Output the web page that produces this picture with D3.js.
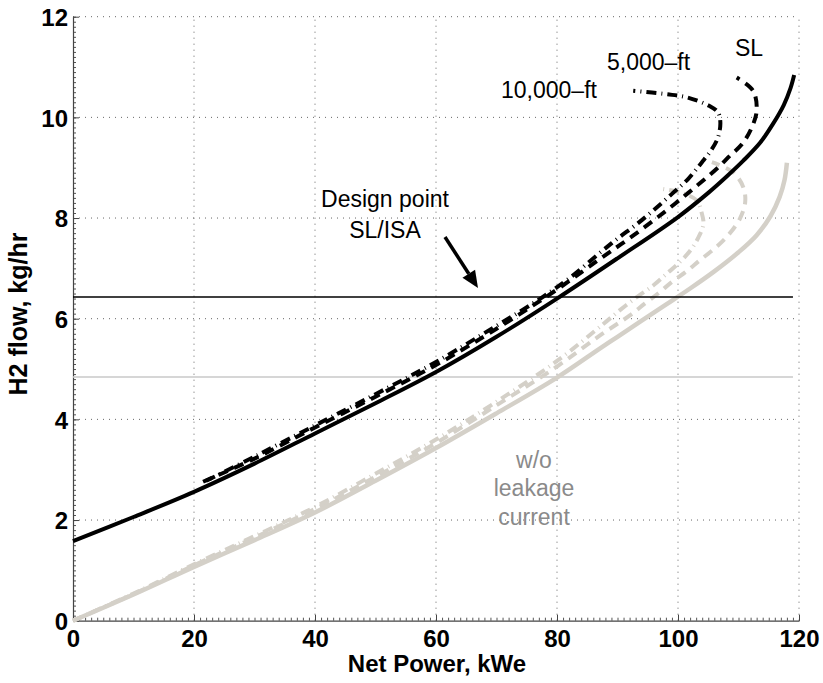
<!DOCTYPE html>
<html>
<head>
<meta charset="utf-8">
<script src="https://cdn.jsdelivr.net/npm/d3@7"></script>
<style>
  html, body { margin: 0; padding: 0; background: #fff; }
  svg { display: block; font-family: "Liberation Sans", Arial, Helvetica, sans-serif; }
</style>
</head>
<body>
<svg id="chart" width="823" height="683"></svg>
<script>
// ---------------- data ----------------
const xTickValues = [0, 20, 40, 60, 80, 100, 120];
const yTickValues = [0, 2, 4, 6, 8, 10, 12];
const xLabel = "Net Power, kWe";
const yLabel = "H2 flow, kg/hr";

// Sea level (with leakage current) - black solid
const slPower = [0, 10, 20, 30, 40, 50, 60, 70, 80, 90, 100, 105, 108, 110.8, 113.6, 115.7, 117.5, 118.6, 119.2];
const slFlow  = [1.58, 2.06, 2.56, 3.12, 3.72, 4.32, 4.94, 5.64, 6.40, 7.2, 8.02, 8.5, 8.82, 9.14, 9.5, 9.87, 10.25, 10.58, 10.84];

// 5,000 ft - black dashed
const ft5kPower = [21.5, 30, 40, 50, 60, 70, 80, 87, 92, 96.7, 101.7, 106.4, 108.6, 110.6, 112.2, 113.0, 112.4, 109.7];
const ft5kFlow  = [2.76, 3.22, 3.84, 4.45, 5.08, 5.80, 6.58, 7.18, 7.6, 8.02, 8.5, 8.98, 9.24, 9.47, 9.80, 10.13, 10.53, 10.79];

// 10,000 ft - black dash-dot
const ft10kPower = [22, 30, 40, 50, 60, 70, 77, 82, 87.4, 90.1, 93.2, 95.9, 99.0, 101.7, 103.9, 105.5, 106.6, 107.0, 106.6, 105.3, 101.4, 98.1, 92.6];
const ft10kFlow  = [2.78, 3.26, 3.88, 4.5, 5.14, 5.86, 6.38, 6.8, 7.34, 7.6, 7.88, 8.15, 8.48, 8.78, 9.1, 9.35, 9.6, 9.9, 10.1, 10.22, 10.40, 10.46, 10.53];

// without leakage current - grey
const slNoLeakPower = [0, 10, 20, 30, 40, 50, 60, 70, 80, 87, 90, 94, 98, 102, 106, 110, 113, 115.3, 116.8, 117.6, 118];
const slNoLeakFlow  = [0, 0.52, 1.07, 1.6, 2.15, 2.78, 3.43, 4.12, 4.83, 5.4, 5.64, 5.96, 6.28, 6.6, 6.94, 7.32, 7.66, 8.04, 8.42, 8.75, 9.1];

const ft5kNoLeakPower = [0, 10, 20, 30, 40, 50, 60, 70, 80, 87, 92.1, 94.5, 96.7, 99, 101.4, 103.6, 106.1, 108.3, 110.2, 111.1, 110.8, 109.1, 105.6];
const ft5kNoLeakFlow  = [0, 0.53, 1.1, 1.65, 2.22, 2.86, 3.53, 4.28, 5.05, 5.66, 6.07, 6.3, 6.5, 6.73, 6.94, 7.16, 7.4, 7.66, 7.98, 8.31, 8.61, 8.91, 9.11];

const ft10kNoLeakPower = [0, 10, 20, 30, 40, 50, 60, 70, 80, 87.7, 90.4, 93.2, 95.9, 98.1, 100, 102, 103.4, 104.2, 103.9, 103.1, 100.3, 97.3];
const ft10kNoLeakFlow  = [0, 0.54, 1.12, 1.68, 2.26, 2.92, 3.6, 4.35, 5.16, 5.9, 6.17, 6.43, 6.66, 6.89, 7.09, 7.35, 7.62, 7.88, 8.11, 8.35, 8.51, 8.58];

// design point horizontal references
const refPowerRange = [0, 119];
const designFlow = 6.43;
const noLeakDesignFlow = 4.84;

// ---------------- chart ----------------
const svg = d3.select("#chart");
const x = d3.scaleLinear().domain([0, 120]).range([73, 799]);
const y = d3.scaleLinear().domain([0, 12]).range([620.7, 16.7]);

const GREY = "rgb(212,208,200)";

// grid
const grid = svg.append("g");
grid.selectAll("line.vx").data(xTickValues.filter(d => d > 0)).join("line")
  .attr("x1", d => x(d)).attr("x2", d => x(d))
  .attr("y1", y(0)).attr("y2", y(12))
  .attr("stroke", "#666").attr("stroke-width", 1).attr("stroke-dasharray", "1,5");
grid.selectAll("line.hy").data(yTickValues.filter(d => d > 0)).join("line")
  .attr("x1", x(0)).attr("x2", x(120))
  .attr("y1", d => y(d)).attr("y2", d => y(d))
  .attr("stroke", "#666").attr("stroke-width", 1).attr("stroke-dasharray", "1,5");

// axes (minor ticks)
const xMinor = d3.range(0, 121, 1);
const yMinor = d3.range(0, 120.5, 1).map(d => d / 10);
svg.append("g").attr("transform", `translate(0,${y(0)})`)
  .call(d3.axisBottom(x).tickValues(xMinor).tickSize(-3).tickFormat(""))
  .call(g => g.select(".domain").remove())
  .selectAll("line").attr("stroke", "#555");
svg.append("g").attr("transform", `translate(${x(0)},0)`)
  .call(d3.axisLeft(y).tickValues(yMinor).tickSize(-3).tickFormat(""))
  .call(g => g.select(".domain").remove())
  .selectAll("line").attr("stroke", "#555");

// major axes
const xAxis = svg.append("g").attr("transform", `translate(0,${y(0)})`)
  .call(d3.axisBottom(x).tickValues(xTickValues).tickSize(-6).tickSizeOuter(0).tickPadding(9).tickFormat(d3.format("d")));
const yAxis = svg.append("g").attr("transform", `translate(${x(0)},0)`)
  .call(d3.axisLeft(y).tickValues(yTickValues).tickSize(-6).tickSizeOuter(0).tickPadding(5).tickFormat(d3.format("d")));
[xAxis, yAxis].forEach(a => {
  a.select(".domain").attr("stroke", "#444").attr("stroke-width", 1.2);
  a.selectAll(".tick line").attr("stroke", "#444");
  a.selectAll(".tick text").attr("fill", "#000").attr("font-size", 24).attr("font-weight", "bold")
    .attr("font-family", "'Liberation Sans', Arial, sans-serif");
});
yAxis.selectAll(".tick text").attr("dy", "0.36em");
xAxis.selectAll(".tick text").attr("dy", "0.72em");

// line generator
const line = d3.line().x(d => x(d[0])).y(d => y(d[1])).curve(d3.curveCatmullRom.alpha(0.5));
const zip = (a, b) => a.map((v, i) => [v, b[i]]);

const plot = svg.append("g");

// grey reference line
plot.append("line")
  .attr("x1", x(refPowerRange[0])).attr("x2", x(refPowerRange[1]))
  .attr("y1", y(noLeakDesignFlow)).attr("y2", y(noLeakDesignFlow))
  .attr("stroke", "#c8c8c8").attr("stroke-width", 1.5);

// grey curves
plot.append("path").attr("d", line(zip(ft10kNoLeakPower, ft10kNoLeakFlow)))
  .attr("fill", "none").attr("stroke", GREY).attr("stroke-width", 4).attr("stroke-dasharray", "10,5,1,5");
plot.append("path").attr("d", line(zip(ft5kNoLeakPower, ft5kNoLeakFlow)))
  .attr("fill", "none").attr("stroke", GREY).attr("stroke-width", 4).attr("stroke-dasharray", "10,7");
plot.append("path").attr("d", line(zip(slNoLeakPower, slNoLeakFlow)))
  .attr("fill", "none").attr("stroke", GREY).attr("stroke-width", 4.5);

// black reference line
plot.append("line")
  .attr("x1", x(refPowerRange[0])).attr("x2", x(refPowerRange[1]))
  .attr("y1", y(designFlow)).attr("y2", y(designFlow))
  .attr("stroke", "#000").attr("stroke-width", 1.5);

// black curves
plot.append("path").attr("d", line(zip(ft10kPower, ft10kFlow)))
  .attr("fill", "none").attr("stroke", "#000").attr("stroke-width", 4).attr("stroke-dasharray", "10,5,1,5");
plot.append("path").attr("d", line(zip(ft5kPower, ft5kFlow)))
  .attr("fill", "none").attr("stroke", "#000").attr("stroke-width", 4).attr("stroke-dasharray", "10,7");
plot.append("path").attr("d", line(zip(slPower, slFlow)))
  .attr("fill", "none").attr("stroke", "#000").attr("stroke-width", 4);

// annotations
const ann = svg.append("g").attr("font-family", "'Liberation Sans', Arial, sans-serif").attr("font-size", 23);
ann.append("text").attr("x", 735).attr("y", 56).text("SL");
ann.append("text").attr("x", 607).attr("y", 70).text("5,000\u2013ft");
ann.append("text").attr("x", 501).attr("y", 98).text("10,000\u2013ft");
ann.append("text").attr("x", 385).attr("y", 207).attr("text-anchor", "middle").text("Design point");
ann.append("text").attr("x", 385).attr("y", 238).attr("text-anchor", "middle").text("SL/ISA");
const grey = ann.append("g").attr("fill", "#8a8a8a").attr("text-anchor", "middle");
grey.append("text").attr("x", 534).attr("y", 468).text("w/o");
grey.append("text").attr("x", 534).attr("y", 496).text("leakage");
grey.append("text").attr("x", 534).attr("y", 525).text("current");

// arrow
const ax0 = 445, ay0 = 237, ax1 = 478, ay1 = 288;
const ang = Math.atan2(ay1 - ay0, ax1 - ax0);
const headLen = 17, headW = 7.5;
const bx = ax1 - headLen * Math.cos(ang), by = ay1 - headLen * Math.sin(ang);
svg.append("line").attr("x1", ax0).attr("y1", ay0).attr("x2", bx).attr("y2", by)
  .attr("stroke", "#000").attr("stroke-width", 3.5);
svg.append("path")
  .attr("d", `M${ax1},${ay1}L${bx + headW * Math.sin(ang)},${by - headW * Math.cos(ang)}L${bx - headW * Math.sin(ang)},${by + headW * Math.cos(ang)}Z`)
  .attr("fill", "#000");

// axis labels
svg.append("text").attr("x", 437).attr("y", 672).attr("text-anchor", "middle")
  .attr("font-size", 24).attr("font-weight", "bold").text(xLabel);
svg.append("text").attr("transform", "translate(27,314) rotate(-90)").attr("text-anchor", "middle")
  .attr("font-size", 25).attr("font-weight", "bold").text(yLabel);
</script>
</body>
</html>
